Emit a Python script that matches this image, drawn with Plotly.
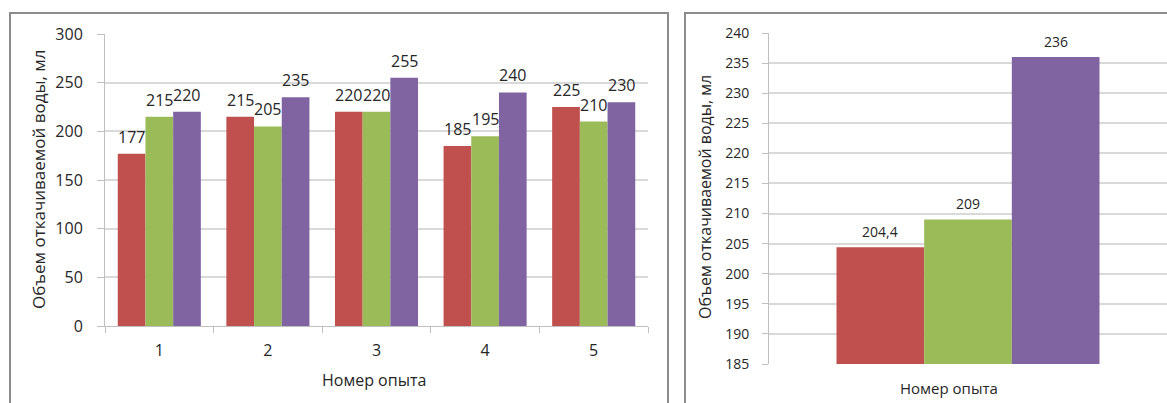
import plotly.graph_objects as go

W, H = 1167, 403

# ---- data ----
experiments = ["1", "2", "3", "4", "5"]
series_a = [177, 215, 220, 185, 225]
series_b = [215, 205, 220, 195, 210]
series_c = [220, 235, 255, 240, 230]

avg_category = [""]
avg_a = [204.4]
avg_b = [209]
avg_c = [236]

colors = ["#C0504D", "#9BBB59", "#8064A2"]
y_title = "Объем откачиваемой воды, мл"
x_title = "Номер опыта"
FONT = "Open Sans, DejaVu Sans, sans-serif"
TXT = "#262626"


def px(x):
    return x / W


def py(y):
    return (H - y) / H


# layout geometry (pixels)
L_X0, L_X1, L_Y0, L_Y1 = 105, 648, 326, 34
R_X0, R_X1, R_Y0, R_Y1 = 769, 1167, 364, 33
BARGAP = 0.235
R_GROUP_PX = 263

fig = go.Figure()

for vals, col in zip([series_a, series_b, series_c], colors):
    fig.add_trace(go.Bar(
        x=experiments, y=vals, marker=dict(color=col, line=dict(width=0)),
        xaxis="x", yaxis="y", showlegend=False, hoverinfo="x+y"))

for vals, col in zip([avg_a, avg_b, avg_c], colors):
    fig.add_trace(go.Bar(
        x=avg_category, y=vals, marker=dict(color=col, line=dict(width=0)),
        xaxis="x2", yaxis="y2", showlegend=False, hoverinfo="y"))

grid = "#d9d9d9"
axl = "#bfbfbf"

r_units = (1 - BARGAP) * (R_X1 - R_X0) / R_GROUP_PX
fig.update_layout(
    width=W, height=H, margin=dict(l=0, r=0, t=0, b=0, autoexpand=False),
    paper_bgcolor="white", plot_bgcolor="white",
    barmode="group", bargap=BARGAP, bargroupgap=0,
    separators=", ",
    font=dict(family=FONT, color=TXT, size=14),
    xaxis=dict(domain=[px(L_X0), px(L_X1)], anchor="y", type="category",
               range=[-0.5, len(experiments) - 0.5],
               showline=True, linecolor=axl, linewidth=1,
               ticks="outside", tickson="boundaries", ticklen=6, tickcolor=axl,
               ticklabelstandoff=10, tickfont=dict(size=16)),
    yaxis=dict(domain=[py(L_Y0), py(L_Y1)], anchor="x", range=[0, 300],
               dtick=50, showgrid=True, gridcolor=grid, gridwidth=1.5,
               showline=True, linecolor=axl, ticks="outside", ticklen=7,
               tickcolor=axl, ticklabelstandoff=11, tickfont=dict(size=16),
               zeroline=False),
    xaxis2=dict(domain=[px(R_X0), px(R_X1)], anchor="y2", type="category",
                range=[-r_units / 2, r_units / 2],
                showline=False, ticks="", showticklabels=False),
    yaxis2=dict(domain=[py(R_Y0), py(R_Y1)], anchor="x2", range=[185, 240],
                dtick=5, showgrid=True, gridcolor=grid, gridwidth=1.5,
                showline=True, linecolor=axl, ticks="outside", ticklen=6,
                tickcolor=axl, ticklabelstandoff=10, tickfont=dict(size=14),
                zeroline=False),
)

# data labels (placed above each bar); x given as category index
l_bar_px = (L_X1 - L_X0) / len(experiments) * (1 - BARGAP) / 3
for i, vals in enumerate([series_a, series_b, series_c]):
    for j, v in enumerate(vals):
        fig.add_annotation(x=j, y=v, xref="x", yref="y", text=str(v),
                           showarrow=False, xshift=(i - 1) * l_bar_px,
                           yshift=17, yanchor="middle",
                           font=dict(size=16, color=TXT))

r_bar_px = R_GROUP_PX / 3
for i, vals in enumerate([avg_a, avg_b, avg_c]):
    for j, v in enumerate(vals):
        fig.add_annotation(x=j, y=v, xref="x2", yref="y2",
                           text=f"{v:g}".replace(".", ","),
                           showarrow=False, xshift=(i - 1) * r_bar_px,
                           yshift=16, yanchor="middle",
                           font=dict(size=14, color=TXT))

# frames around each chart
fig.add_shape(type="rect", xref="paper", yref="paper",
              x0=px(10), x1=px(668), y0=-0.05, y1=py(13),
              line=dict(color="#8c8c8c", width=2), layer="below")
fig.add_shape(type="rect", xref="paper", yref="paper",
              x0=px(685), x1=1.05, y0=-0.05, y1=py(13),
              line=dict(color="#8c8c8c", width=2), layer="below")

# axis titles
fig.add_annotation(text=x_title, xref="paper", yref="paper",
                   x=px(374), y=py(380), showarrow=False,
                   font=dict(size=16), xanchor="center", yanchor="middle")
fig.add_annotation(text=y_title, xref="paper", yref="paper",
                   x=px(38), y=py(179), showarrow=False, textangle=-90,
                   font=dict(size=17), xanchor="center", yanchor="middle")
fig.add_annotation(text=x_title, xref="paper", yref="paper",
                   x=px(949), y=py(388), showarrow=False,
                   font=dict(size=15), xanchor="center", yanchor="middle")
fig.add_annotation(text=y_title, xref="paper", yref="paper",
                   x=px(705), y=py(197), showarrow=False, textangle=-90,
                   font=dict(size=16), xanchor="center", yanchor="middle")

fig.write_html("out.html",
               post_script="document.body.style.margin='0';"
                           "document.body.style.overflow='hidden';")
